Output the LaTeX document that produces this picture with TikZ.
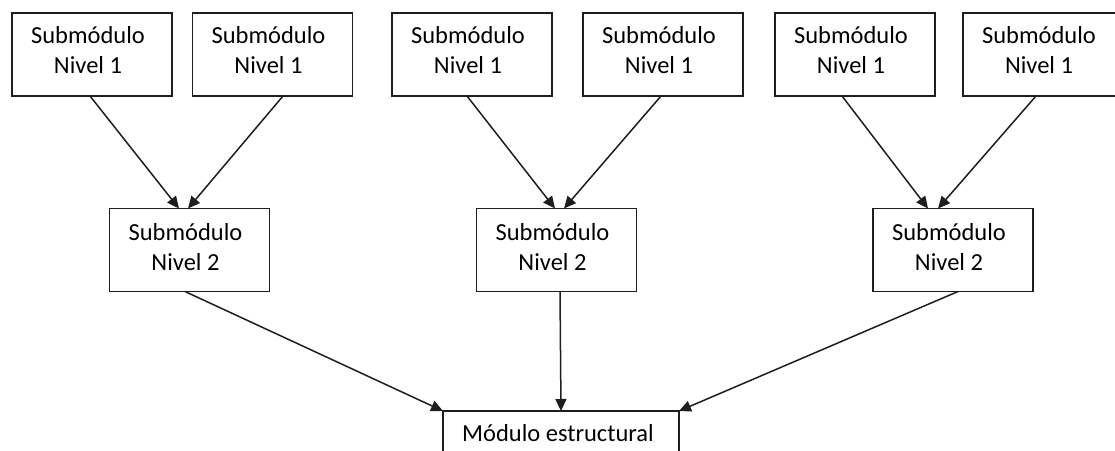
\documentclass[tikz,border=0pt]{standalone}
\usepackage{fontspec}
\setmainfont{Carlito}
\usetikzlibrary{arrows.meta,calc}
\definecolor{linegray}{HTML}{1E1E1E}
\tikzset{
  modbox/.style={draw=linegray, line width=1.6pt, minimum width=160pt, minimum height=83pt,
    inner sep=0pt, outer sep=0pt, fill=white},
  modtext/.style={align=center, inner sep=0pt, anchor=base, text=black,
    font=\fontsize{24.5}{30}\selectfont},
  link/.style={draw=linegray, line width=1.5pt, -{Triangle[length=12pt,width=11pt]}},
}
\begin{document}
\begin{tikzpicture}[x=1pt,y=-1pt]
  \useasboundingbox (0,0) rectangle (1115,450);
  \clip (0,0) rectangle (1115,450);

  % nivel 1
  \node[modbox] (t1) at (92,54.5) {};
  \node[modbox] (t2) at (272.5,54.5) {};
  \node[modbox] (t3) at (472,54.5) {};
  \node[modbox] (t4) at (663,54.5) {};
  \node[modbox] (t5) at (855,54.5) {};
  \node[modbox] (t6) at (1043,54.5) {};
  % nivel 2
  \node[modbox] (m1) at (189.5,250) {};
  \node[modbox] (m2) at (556.5,250) {};
  \node[modbox] (m3) at (953,250) {};
  % modulo estructural
  \node[modbox, minimum width=236pt, minimum height=80pt, anchor=north] (b) at (561,411) {};

  % the base anchor of a two-line node sits on its last line
  \foreach \n in {t1,t2,t3,t4,t5,t6}
    \node[modtext] (\n-txt) at ($(\n.north)+(-4,60)$) {Submódulo\\Nivel 1};
  \foreach \n in {m1,m2,m3}
    \node[modtext] (\n-txt) at ($(\n.north)+(-4,62)$) {Submódulo\\Nivel 2};
  \node[modtext] (b-txt) at ($(b.north)+(-3,30)$) {Módulo estructural};

  % conexiones nivel 1 -> nivel 2
  \draw[link] ($(t1.south)+(-2,0)$) -- ($(m1.north)+(-10.5,0)$);
  \draw[link] ($(t2.south)+(10.5,0)$) -- ($(m1.north)+(-1.5,0)$);
  \draw[link] ($(t3.south)+(-5,0)$) -- ($(m2.north)+(-1.5,0)$);
  \draw[link] ($(t4.south)+(-2,0)$) -- ($(m2.north)+(7.5,0)$);
  \draw[link] ($(t5.south)+(-13,0)$) -- ($(m3.north)+(-25,0)$);
  \draw[link] ($(t6.south)+(-7,0)$) -- ($(m3.north)+(-15,0)$);
  % conexiones nivel 2 -> modulo estructural
  \draw[link] ($(m1.south)+(-4.5,0)$) -- (b.north west);
  \draw[link] ($(m2.south)+(3.5,0)$) -- (b.north);
  \draw[link] ($(m3.south)+(5,0)$) -- (b.north east);
\end{tikzpicture}
\end{document}
